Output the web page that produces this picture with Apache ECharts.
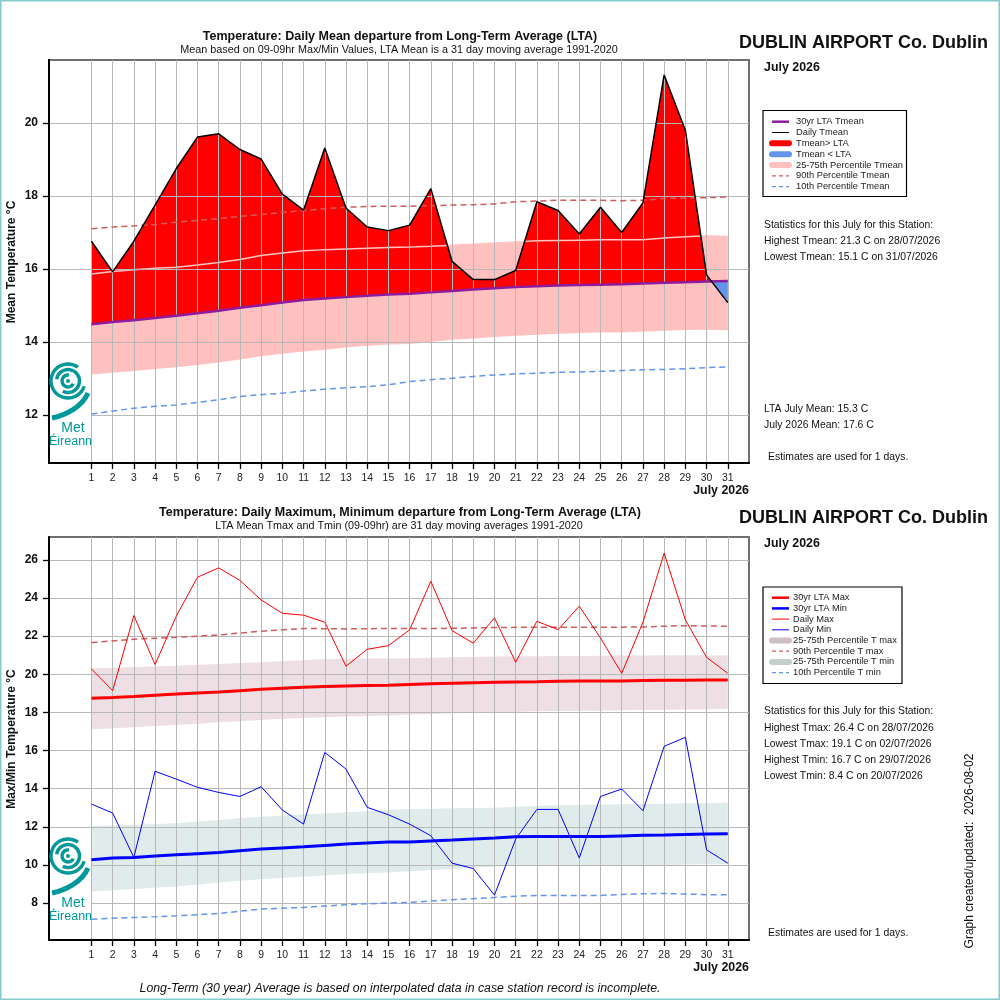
<!DOCTYPE html>
<html lang="en">
<head>
<meta charset="UTF-8">
<title>Dublin Airport - July 2026 temperatures</title>
<script src="https://cdn.jsdelivr.net/npm/echarts@6/dist/echarts.min.js"></script>
<style>
  html, body { margin: 0; padding: 0; background: #fff; }
  #chart { width: 1000px; height: 1000px; }
</style>
</head>
<body>
<div id="chart"></div>
<script>
const FONT = 'Liberation Sans, Arial, Helvetica, sans-serif';

// ---- data ----
const days = [1, 2, 3, 4, 5, 6, 7, 8, 9, 10, 11, 12, 13, 14, 15, 16,
    17, 18, 19, 20, 21, 22, 23, 24, 25, 26, 27, 28, 29, 30, 31];

// top panel: daily mean
const tmean = [16.76, 15.92, 16.76, 17.75, 18.75, 19.61, 19.70, 19.27, 19.01, 18.05, 17.61,
    19.31, 17.67, 17.15, 17.05, 17.20, 18.20, 16.21, 15.71, 15.71, 15.96, 17.84, 17.60,
    16.96, 17.69, 17.00, 17.81, 21.31, 19.80, 15.84, 15.08];
const ltaMean = [14.49, 14.55, 14.60, 14.66, 14.72, 14.79, 14.86, 14.94, 15.01, 15.08, 15.15,
    15.19, 15.23, 15.27, 15.30, 15.32, 15.36, 15.40, 15.44, 15.47, 15.51, 15.53, 15.55,
    15.56, 15.57, 15.58, 15.60, 15.62, 15.64, 15.66, 15.67];
const p90Mean = [17.10, 17.15, 17.18, 17.22, 17.28, 17.33, 17.38, 17.44, 17.49, 17.55, 17.60,
    17.65, 17.69, 17.71, 17.72, 17.72, 17.73, 17.75, 17.76, 17.78, 17.84, 17.86, 17.88,
    17.88, 17.88, 17.87, 17.88, 17.93, 17.94, 17.95, 17.97];
const p75Mean = [15.86, 15.93, 15.98, 16.02, 16.05, 16.11, 16.18, 16.26, 16.37, 16.44, 16.50,
    16.53, 16.55, 16.57, 16.59, 16.60, 16.62, 16.65, 16.68, 16.71, 16.74, 16.77, 16.78,
    16.79, 16.80, 16.80, 16.80, 16.85, 16.88, 16.91, 16.89];
const p25Mean = [13.11, 13.16, 13.21, 13.26, 13.31, 13.37, 13.44, 13.52, 13.61, 13.68, 13.74,
    13.79, 13.85, 13.90, 13.93, 13.95, 14.00, 14.06, 14.10, 14.14, 14.17, 14.20, 14.23,
    14.25, 14.26, 14.26, 14.29, 14.31, 14.33, 14.34, 14.32];
const p10Mean = [12.03, 12.11, 12.19, 12.24, 12.28, 12.35, 12.42, 12.51, 12.56, 12.60, 12.66,
    12.71, 12.75, 12.78, 12.83, 12.92, 12.97, 13.01, 13.06, 13.10, 13.13, 13.15, 13.17,
    13.18, 13.20, 13.22, 13.24, 13.25, 13.27, 13.30, 13.32];

// bottom panel: daily max / min
const tmax = [20.28, 19.14, 23.08, 20.51, 23.05, 25.09, 25.58, 24.92, 23.90, 23.20, 23.10,
    22.73, 20.42, 21.31, 21.50, 22.33, 24.88, 22.29, 21.63, 22.96, 20.63, 22.78, 22.34,
    23.57, 21.90, 20.05, 22.73, 26.35, 22.85, 20.89, 20.05];
const tmin = [13.19, 12.72, 10.39, 14.91, 14.50, 14.07, 13.80, 13.59, 14.10, 12.88, 12.14,
    15.90, 15.03, 13.02, 12.63, 12.14, 11.53, 10.09, 9.81, 8.41, 11.35, 12.91, 12.91,
    10.36, 13.59, 13.98, 12.84, 16.22, 16.69, 10.79, 10.09];
const ltaMax = [18.74, 18.78, 18.83, 18.90, 18.97, 19.02, 19.07, 19.14, 19.21, 19.27, 19.32,
    19.36, 19.39, 19.41, 19.42, 19.46, 19.50, 19.53, 19.56, 19.58, 19.60, 19.61, 19.63,
    19.65, 19.65, 19.65, 19.67, 19.68, 19.69, 19.70, 19.70];
const ltaMin = [10.27, 10.36, 10.39, 10.46, 10.53, 10.59, 10.65, 10.74, 10.83, 10.89, 10.95,
    11.02, 11.09, 11.15, 11.20, 11.20, 11.25, 11.30, 11.36, 11.41, 11.48, 11.49, 11.49,
    11.49, 11.49, 11.52, 11.55, 11.57, 11.60, 11.62, 11.63];
const p90Max = [21.66, 21.75, 21.84, 21.89, 21.94, 22.00, 22.06, 22.16, 22.26, 22.33, 22.40,
    22.39, 22.38, 22.39, 22.40, 22.40, 22.40, 22.41, 22.43, 22.45, 22.46, 22.47, 22.47,
    22.47, 22.47, 22.47, 22.48, 22.52, 22.55, 22.53, 22.52];
const p75Max = [20.31, 20.34, 20.38, 20.41, 20.45, 20.50, 20.54, 20.59, 20.63, 20.69, 20.74,
    20.80, 20.81, 20.82, 20.82, 20.84, 20.86, 20.89, 20.91, 20.93, 20.94, 20.95, 20.96,
    20.96, 20.97, 20.98, 20.99, 21.00, 21.00, 20.99, 20.98];
const p25Max = [17.11, 17.17, 17.22, 17.28, 17.34, 17.41, 17.48, 17.54, 17.60, 17.66, 17.71,
    17.75, 17.78, 17.81, 17.83, 17.88, 17.92, 17.95, 17.97, 17.99, 18.02, 18.06, 18.07,
    18.08, 18.09, 18.11, 18.12, 18.14, 18.15, 18.17, 18.18];
const p75Min = [12.04, 12.07, 12.11, 12.14, 12.18, 12.27, 12.36, 12.46, 12.52, 12.58, 12.64,
    12.70, 12.76, 12.82, 12.88, 12.93, 12.95, 12.97, 12.98, 13.00, 13.05, 13.09, 13.13,
    13.16, 13.17, 13.18, 13.19, 13.21, 13.23, 13.25, 13.26];
const p25Min = [8.61, 8.67, 8.74, 8.80, 8.87, 8.97, 9.08, 9.17, 9.25, 9.32, 9.38,
    9.45, 9.52, 9.56, 9.60, 9.66, 9.72, 9.78, 9.87, 9.91, 9.95, 9.96, 9.97,
    9.98, 9.99, 9.99, 10.00, 10.00, 10.02, 10.03, 10.04];
const p10Min = [7.15, 7.20, 7.24, 7.28, 7.33, 7.39, 7.45, 7.57, 7.68, 7.73, 7.77,
    7.84, 7.91, 7.96, 8.00, 8.03, 8.10, 8.17, 8.23, 8.29, 8.35, 8.40, 8.40,
    8.40, 8.40, 8.45, 8.48, 8.50, 8.47, 8.44, 8.43];

const topTicks = [12, 14, 16, 18, 20];
const bottomTicks = [8, 10, 12, 14, 16, 18, 20, 22, 24, 26];

// ---- helpers ----
const xy = vals => vals.map((v, i) => [days[i], v]);

function line(data, gi, color, width, dash, z) {
    return {
        type: 'line', xAxisIndex: gi, yAxisIndex: gi, data: data,
        symbol: 'none', silent: true, z: z || 2,
        lineStyle: { color: color, width: width, type: dash ? [6, 4] : 'solid' }
    };
}

// filled polygon between lo and hi, drawn once through the axes
function fillBetween(xs, lo, hi, gi, color) {
    const rows = xs.map((x, i) => [x, lo[i], hi[i]]);
    return {
        type: 'custom', xAxisIndex: gi, yAxisIndex: gi, silent: true, z: 2,
        data: rows, encode: { x: 0, y: [1, 2] },
        renderItem: function (params, api) {
            if (params.dataIndex !== 0) return null;
            const upper = rows.map(r => api.coord([r[0], r[2]]));
            const lower = rows.map(r => api.coord([r[0], r[1]])).reverse();
            return { type: 'polygon', shape: { points: upper.concat(lower) }, style: { fill: color } };
        }
    };
}

// daily mean vs LTA, with the crossing points added so red/blue split cleanly
const fx = [], fLta = [], fDay = [];
for (let i = 0; i < days.length; i++) {
    fx.push(days[i]); fLta.push(ltaMean[i]); fDay.push(tmean[i]);
    if (i < days.length - 1) {
        const a = tmean[i] - ltaMean[i], b = tmean[i + 1] - ltaMean[i + 1];
        if (a * b < 0) {
            const t = a / (a - b);
            const v = ltaMean[i] + t * (ltaMean[i + 1] - ltaMean[i]);
            fx.push(days[i] + t); fLta.push(v); fDay.push(v);
        }
    }
}
const aboveTop = fx.map((x, i) => Math.max(fDay[i], fLta[i]));
const belowBase = fx.map((x, i) => Math.min(fDay[i], fLta[i]));

function xAxisFor(gi) {
    return {
        type: 'value', gridIndex: gi, min: -1, max: 32, z: 3,
        axisLine: { onZero: false, lineStyle: { color: '#000', width: 2 } },
        axisTick: { customValues: days, length: 6, lineStyle: { color: '#000', width: 1.3 } },
        axisLabel: { customValues: days, fontSize: 10.4, color: '#222', margin: 10, fontFamily: FONT },
        splitLine: { show: true, customValues: days, lineStyle: { color: '#b8b8b8', width: 1 } }
    };
}
function yAxisFor(gi, min, max, ticks) {
    return {
        type: 'value', gridIndex: gi, min: min, max: max, z: 3,
        axisLine: { show: true, onZero: false, lineStyle: { color: '#000', width: 2 } },
        axisTick: { show: true, customValues: ticks, length: 6, lineStyle: { color: '#000', width: 1.3 } },
        axisLabel: { customValues: ticks, fontSize: 12, fontWeight: 'bold', color: '#111', margin: 11, fontFamily: FONT },
        splitLine: { show: true, customValues: ticks, lineStyle: { color: '#b8b8b8', width: 1 } }
    };
}

// ---- decorations ----
function txt(text, x, y, size, opts) {
    opts = opts || {};
    return {
        type: 'text', x: x, y: y, z: 30, rotation: opts.rotation || 0, silent: true,
        style: {
            text: text, fill: opts.color || '#111', fontSize: size, fontFamily: FONT,
            fontWeight: opts.bold ? 'bold' : 'normal', fontStyle: opts.italic ? 'italic' : 'normal',
            textAlign: opts.align || 'left', textVerticalAlign: 'middle'
        }
    };
}

function legendBox(x, y, w, h, y0, step, textX, items) {
    const els = [{
        type: 'rect', z: 30, silent: true, shape: { x: x, y: y, width: w, height: h },
        style: { fill: '#fff', stroke: '#000', lineWidth: 1.2 }
    }];
    items.forEach((it, i) => {
        const yy = y0 + i * step;
        els.push({
            type: 'line', z: 31, silent: true, shape: { x1: 772, y1: yy, x2: 789, y2: yy },
            style: { stroke: it.color, lineWidth: it.width, lineDash: it.dash ? [4, 3] : null, lineCap: it.width > 3 ? 'round' : 'butt' }
        });
        els.push(txt(it.label, textX, yy, 9.3, { color: '#222' }));
    });
    return els;
}

function logo(top) {
    const teal = '#00989a';
    const cx = 68, cy = top + 26;
    const els = [{
        type: 'rect', z: 20, silent: true, shape: { x: 50, y: top, width: 41, height: 97 },
        style: { fill: '#fff' }
    }];
    [[17, 0.1, 1.7], [11.5, 1.05, 2.65], [6, 0.15, 1.55]].forEach(a => {
        els.push({
            type: 'arc', z: 21, silent: true,
            shape: { cx: cx, cy: cy, r: a[0], startAngle: a[1] * Math.PI, endAngle: a[2] * Math.PI },
            style: { stroke: teal, lineWidth: 3.4, fill: null }
        });
    });
    els.push({ type: 'circle', z: 21, silent: true, shape: { cx: cx, cy: cy, r: 2 }, style: { fill: teal } });
    els.push({
        type: 'bezierCurve', z: 21, silent: true,
        shape: { x1: 52, y1: top + 63, cpx1: 66, cpy1: top + 60, cpx2: 82, cpy2: top + 52, x2: 88, y2: top + 38 },
        style: { stroke: teal, lineWidth: 5, fill: null }
    });
    const met = txt('Met', 73, top + 73, 14, { color: teal });
    met.style.textAlign = 'center';
    const eir = txt('Éireann', 70.5, top + 87, 12.5, { color: teal });
    eir.style.textAlign = 'center';
    els.push(met, eir);
    return els;
}

const red = '#ff0000', blue = '#0000ff', purple = '#8e1c9e';
const indian = '#cd5c5c', cornflower = '#6495ed';

const graphics = [].concat(
    [{ type: 'rect', z: 40, silent: true, shape: { x: 0.75, y: 0.75, width: 998.5, height: 998.5 },
       style: { fill: null, stroke: '#86cccc', lineWidth: 1.5 } }],
    // top panel texts
    [txt('Temperature: Daily Mean departure from Long-Term Average (LTA)', 400, 37, 12.5, { bold: true, align: 'center' }),
     txt('Mean based on 09-09hr Max/Min Values, LTA Mean is a 31 day moving average 1991-2020', 399, 50, 10.8, { align: 'center' }),
     txt('DUBLIN AIRPORT Co. Dublin', 988, 43, 18, { bold: true, align: 'right' }),
     txt('July 2026', 764, 68, 12.4, { bold: true }),
     txt('July 2026', 749, 491, 12.4, { bold: true, align: 'right' }),
     txt('Mean Temperature °C', 12, 262, 12, { bold: true, align: 'center', rotation: Math.PI / 2 }),
     txt('Statistics for this July for this Station:', 764, 225, 10.4),
     txt('Highest Tmean: 21.3 C on 28/07/2026', 764, 241, 10.4),
     txt('Lowest Tmean: 15.1 C on 31/07/2026', 764, 257, 10.4),
     txt('LTA July Mean: 15.3 C', 764, 409, 10.4),
     txt('July 2026 Mean: 17.6 C', 764, 425, 10.4),
     txt('Estimates are used for 1 days.', 768, 457, 10.4)],
    legendBox(763, 110.5, 143.5, 86, 121.7, 10.83, 796, [
        { label: '30yr LTA Tmean', color: purple, width: 2.5 },
        { label: 'Daily Tmean', color: '#000', width: 1 },
        { label: 'Tmean> LTA', color: red, width: 6 },
        { label: 'Tmean < LTA', color: cornflower, width: 6 },
        { label: '25-75th Percentile Tmean', color: '#ffc0c0', width: 6 },
        { label: '90th Percentile Tmean', color: indian, width: 1.2, dash: true },
        { label: '10th Percentile Tmean', color: cornflower, width: 1.2, dash: true }
    ]),
    // bottom panel texts
    [txt('Temperature: Daily Maximum, Minimum departure from Long-Term Average (LTA)', 400, 513, 12.5, { bold: true, align: 'center' }),
     txt('LTA Mean Tmax and Tmin (09-09hr) are 31 day moving averages 1991-2020', 399, 526, 10.8, { align: 'center' }),
     txt('DUBLIN AIRPORT Co. Dublin', 988, 518, 18, { bold: true, align: 'right' }),
     txt('July 2026', 764, 544, 12.4, { bold: true }),
     txt('July 2026', 749, 968, 12.4, { bold: true, align: 'right' }),
     txt('Max/Min Temperature °C', 12, 739, 12, { bold: true, align: 'center', rotation: Math.PI / 2 }),
     txt('Statistics for this July for this Station:', 764, 711, 10.4),
     txt('Highest Tmax: 26.4 C on 28/07/2026', 764, 728, 10.4),
     txt('Lowest Tmax: 19.1 C on 02/07/2026', 764, 744, 10.4),
     txt('Highest Tmin: 16.7 C on 29/07/2026', 764, 760, 10.4),
     txt('Lowest Tmin: 8.4 C on 20/07/2026', 764, 776, 10.4),
     txt('Estimates are used for 1 days.', 768, 933, 10.4),
     txt('Graph created/updated:  2026-08-02', 970, 851, 12, { align: 'center', rotation: Math.PI / 2 }),
     txt('Long-Term (30 year) Average is based on interpolated data in case station record is incomplete.', 400, 989, 12.3, { italic: true, align: 'center' })],
    legendBox(763, 587, 139, 96.5, 597.7, 10.7, 793, [
        { label: '30yr LTA Max', color: red, width: 2.5 },
        { label: '30yr LTA Min', color: blue, width: 2.5 },
        { label: 'Daily Max', color: red, width: 1 },
        { label: 'Daily Min', color: blue, width: 1 },
        { label: '25-75th Percentile T max', color: '#cdbfc5', width: 6 },
        { label: '90th Percentile T max', color: indian, width: 1.2, dash: true },
        { label: '25-75th Percentile T min', color: '#c4cecd', width: 6 },
        { label: '10th Percentile T min', color: cornflower, width: 1.2, dash: true }
    ]),
    logo(355),
    logo(830)
);

const series = [
    // top panel
    fillBetween(days, p25Mean, p75Mean, 0, '#ffc0c0'),
    fillBetween(fx, fLta, aboveTop, 0, red),
    fillBetween(fx, belowBase, fLta, 0, cornflower),
    line(xy(p75Mean), 0, '#ffc6c6', 1.5, false, 2),
    line(xy(p90Mean), 0, indian, 1.5, true, 4),
    line(xy(p10Mean), 0, cornflower, 1.5, true, 4),
    line(xy(ltaMean), 0, purple, 2.5, false, 4),
    line(xy(tmean), 0, '#000', 1.5, false, 5),
    // bottom panel
    fillBetween(days, p25Max, p75Max, 1, '#eedfe4'),
    fillBetween(days, p25Min, p75Min, 1, '#dfeceb'),
    line(xy(p90Max), 1, indian, 1.5, true, 4),
    line(xy(p10Min), 1, cornflower, 1.5, true, 4),
    line(xy(ltaMax), 1, red, 3, false, 4),
    line(xy(ltaMin), 1, blue, 3, false, 4),
    line(xy(tmax), 1, red, 1, false, 5),
    line(xy(tmin), 1, blue, 1, false, 5)
];

const chart = echarts.init(document.getElementById('chart'), null, { renderer: 'canvas' });
chart.setOption({
    animation: false,
    backgroundColor: '#fff',
    textStyle: { fontFamily: FONT },
    grid: [
        { left: 49, top: 60, width: 700, height: 403, show: true, borderColor: '#707070', borderWidth: 2, backgroundColor: 'transparent' },
        { left: 49, top: 537, width: 700, height: 403, show: true, borderColor: '#707070', borderWidth: 2, backgroundColor: 'transparent' }
    ],
    xAxis: [xAxisFor(0), xAxisFor(1)],
    yAxis: [yAxisFor(0, 10.69, 21.72, topTicks), yAxisFor(1, 6.06, 27.2, bottomTicks)],
    series: series,
    graphic: graphics
});
</script>
</body>
</html>
